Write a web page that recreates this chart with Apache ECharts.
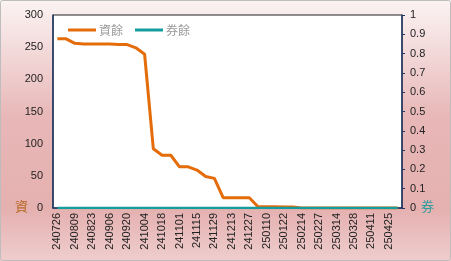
<!DOCTYPE html>
<html>
<head>
<meta charset="utf-8">
<script src="https://cdn.jsdelivr.net/npm/echarts@6/dist/echarts.min.js"></script>
<style>
html,body{margin:0;padding:0;background:#fff;}
#c{width:451px;height:261px;}
</style>
</head>
<body>
<div id="c"></div>
<script>
const categories = ['240726','240802','240809','240816','240823','240830','240906','240913','240920','240927',
  '241004','241011','241018','241025','241101','241108','241115','241122','241129','241206',
  '241213','241220','241227','250103','250110','250117','250122','250207','250214','250221',
  '250227','250307','250314','250321','250328','250403','250411','250418','250425','250430'];
const ziYu = [263,263,256,255,255,255,255,254,254,249,
  239,92,82,82,64,64,59,49,46,16,
  16,16,16,2,2,2,1.5,1.5,0,0,
  0,0,0,0,0,0,0,0,0,0];
const quanYu = [0,0,0,0,0,0,0,0,0,0,
  0,0,0,0,0,0,0,0,0,0,
  0,0,0,0,0,0,0,0,0,0,
  0,0,0,0,0,0,0,0,0,0];
const leftTicks = {min:0, max:300, interval:50};
const rightTicks = {min:0, max:1, interval:0.1};

const chart = echarts.init(document.getElementById('c'), null, {renderer:'canvas'});
const numFont = 'Liberation Sans, Arial, sans-serif';
const cjkFont = 'Noto Sans CJK TC, sans-serif';
chart.setOption({
  animation:false,
  backgroundColor:{type:'linear',x:0,y:0,x2:0,y2:1,colorStops:[
    {offset:0,color:'#FBF3F3'},{offset:0.45,color:'#E8B7B7'},{offset:0.8,color:'#E5B0B0'},{offset:1,color:'#EFCDCD'}]},
  graphic:[
    {type:'rect',shape:{x:0.5,y:0.5,width:450,height:260,r:2},style:{fill:null,stroke:'#BDBDBD',lineWidth:1},z:100},
    {type:'text',left:15,top:200,style:{text:'資',font:'13px '+cjkFont,fill:'#B86A28'}},
    {type:'text',left:421,top:200,style:{text:'券',font:'13px '+cjkFont,fill:'#2A9E9E'}}
  ],
  grid:{left:53,right:49,top:15,bottom:53,show:true,backgroundColor:'#fff',borderColor:'#222',borderWidth:1},
  legend:{left:63,top:19,itemWidth:28,itemHeight:3,itemGap:12,icon:'rect',
    textStyle:{color:'#9a9a9a',fontSize:12,fontFamily:cjkFont,padding:[0,0,0,-2]},
    data:['資餘','券餘']},
  xAxis:{type:'category',data:categories,boundaryGap:true,
    axisLine:{lineStyle:{color:'#1F3864',width:1.5}},axisTick:{show:false},
    axisLabel:{interval:1,rotate:90,margin:5,fontSize:11,color:'#222',fontFamily:numFont}},
  yAxis:[
    {type:'value',min:leftTicks.min,max:leftTicks.max,interval:leftTicks.interval,
      axisLine:{show:true,lineStyle:{color:'#1F3864',width:1.5}},axisTick:{show:false},splitLine:{show:false},
      axisLabel:{margin:10,fontSize:11,color:'#222',fontFamily:numFont}},
    {type:'value',min:rightTicks.min,max:rightTicks.max,interval:rightTicks.interval,position:'right',
      axisLine:{show:true,lineStyle:{color:'#1F3864',width:1.5}},axisTick:{show:true,length:3,lineStyle:{color:'#1F3864'}},splitLine:{show:false},
      axisLabel:{margin:8,fontSize:11,color:'#222',fontFamily:numFont,formatter:v=>String(+v.toFixed(1))}}
  ],
  series:[
    {name:'資餘',type:'line',data:ziYu,yAxisIndex:0,symbol:'none',color:'#E46C0A',lineStyle:{width:3,color:'#E46C0A'}},
    {name:'券餘',type:'line',data:quanYu,yAxisIndex:1,symbol:'none',color:'#159C9C',lineStyle:{width:2.5,color:'#159C9C'}}
  ]
});
</script>
</body>
</html>
